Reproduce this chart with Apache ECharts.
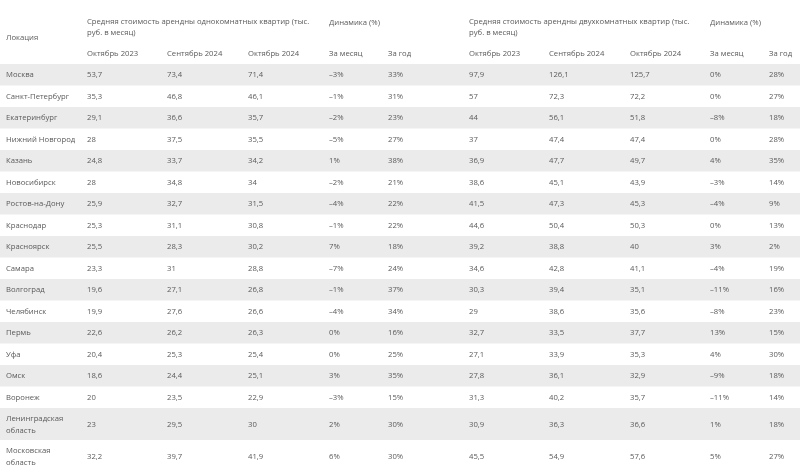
<!DOCTYPE html>
<html>
<head>
<meta charset="utf-8">
<script src="https://cdn.jsdelivr.net/npm/echarts@6/dist/echarts.min.js"></script>
<style>html,body{margin:0;padding:0;background:#fff}#c{width:800px;height:475px}</style>
</head>
<body>
<div id="c"></div>
<script>
// ---- Data ----
const locations = ['Москва','Санкт-Петербург','Екатеринбург','Нижний Новгород','Казань','Новосибирск','Ростов-на-Дону','Краснодар','Красноярск','Самара','Волгоград','Челябинск','Пермь','Уфа','Омск','Воронеж','Ленинградская\nобласть','Московская\nобласть'];
const oneRoomOct2023 = [53.7,35.3,29.1,28,24.8,28,25.9,25.3,25.5,23.3,19.6,19.9,22.6,20.4,18.6,20,23,32.2];
const oneRoomSep2024 = [73.4,46.8,36.6,37.5,33.7,34.8,32.7,31.1,28.3,31,27.1,27.6,26.2,25.3,24.4,23.5,29.5,39.7];
const oneRoomOct2024 = [71.4,46.1,35.7,35.5,34.2,34,31.5,30.8,30.2,28.8,26.8,26.6,26.3,25.4,25.1,22.9,30,41.9];
const oneRoomMonth = [-3,-1,-2,-5,1,-2,-4,-1,7,-7,-1,-4,0,0,3,-3,2,6];
const oneRoomYear = [33,31,23,27,38,21,22,22,18,24,37,34,16,25,35,15,30,30];
const twoRoomOct2023 = [97.9,57,44,37,36.9,38.6,41.5,44.6,39.2,34.6,30.3,29,32.7,27.1,27.8,31.3,30.9,45.5];
const twoRoomSep2024 = [126.1,72.3,56.1,47.4,47.7,45.1,47.3,50.4,38.8,42.8,39.4,38.6,33.5,33.9,36.1,40.2,36.3,54.9];
const twoRoomOct2024 = [125.7,72.2,51.8,47.4,49.7,43.9,45.3,50.3,40,41.1,35.1,35.6,37.7,35.3,32.9,35.7,36.6,57.6];
const twoRoomMonth = [0,0,-8,0,4,-3,-4,0,3,-4,-11,-8,13,4,-9,-11,1,5];
const twoRoomYear = [28,27,18,28,35,14,9,13,2,19,16,23,15,30,18,14,18,27];

const locationHeader = 'Локация';
const groupHeaders = [
  'Средняя стоимость арендны однокомнатных квартир (тыс.\nруб. в месяц)',
  'Динамика (%)',
  'Средняя стоимость арендны двухкомнатных квартир (тыс.\nруб. в месяц)',
  'Динамика (%)'
];
const subHeaders = ['Октябрь 2023','Сентябрь 2024','Октябрь 2024','За месяц','За год','Октябрь 2023','Сентябрь 2024','Октябрь 2024','За месяц','За год'];

// ---- Layout (styles) ----
const W = 800, H = 475;
const colX = [6, 87, 167, 248, 329, 388, 469, 549, 630, 710, 769];
const groupX = [87, 329, 469, 710];
const tableTop = 64;
const singleRowH = 21.5, doubleRowH = 32;
const FONT = "'Open Sans', 'Noto Sans', sans-serif";
const TEXT_COLOR = '#5a5a5a';
const BAND = '#ebebeb';
const FS = 7.7;

const fmtNum = v => String(v).replace('.', ',');
const fmtPct = v => (v < 0 ? '\u2013' + Math.abs(v) : String(v)) + '%';

const valueCols = [
  [oneRoomOct2023, fmtNum],[oneRoomSep2024, fmtNum],[oneRoomOct2024, fmtNum],[oneRoomMonth, fmtPct],[oneRoomYear, fmtPct],
  [twoRoomOct2023, fmtNum],[twoRoomSep2024, fmtNum],[twoRoomOct2024, fmtNum],[twoRoomMonth, fmtPct],[twoRoomYear, fmtPct]
];

// row tops
const rowTop = [], rowH = [];
let acc = tableTop;
locations.forEach(l => {
  const h = l.indexOf('\n') >= 0 ? doubleRowH : singleRowH;
  rowTop.push(acc); rowH.push(h); acc += h;
});

const rows = locations.map((l, i) => [i]);

function txt(p, text, extra) {
  return {
    type: 'text',
    style: Object.assign({
      x: p[0], y: p[1], text: text, fill: TEXT_COLOR,
      font: FS + 'px ' + FONT, align: 'left', verticalAlign: 'middle', lineHeight: 12
    }, extra || {})
  };
}

const chart = echarts.init(document.getElementById('c'), null, {renderer: 'canvas'});
chart.setOption({
  animation: false,
  backgroundColor: '#fff',
  grid: {left: 0, right: 0, top: 0, bottom: 0},
  xAxis: {type: 'value', min: 0, max: W, show: false},
  yAxis: {type: 'value', min: 0, max: H, inverse: true, show: false},
  series: [
    {
      type: 'custom',
      data: [[0]],
      renderItem: function (params, api) {
        const children = [];
        children.push(txt(api.coord([groupX[0], 22.5]), groupHeaders[0], {verticalAlign: 'top', y: api.coord([0, 16.5])[1], lineHeight: 11}));
        children.push(txt(api.coord([groupX[1], 22.5]), groupHeaders[1]));
        children.push(txt(api.coord([groupX[2], 22.5]), groupHeaders[2], {verticalAlign: 'top', y: api.coord([0, 16.5])[1], lineHeight: 11}));
        children.push(txt(api.coord([groupX[3], 22.5]), groupHeaders[3]));
        children.push(txt(api.coord([colX[0], 37.5]), locationHeader));
        subHeaders.forEach((s, j) => children.push(txt(api.coord([colX[j + 1], 53.5]), s)));
        return {type: 'group', children: children};
      }
    },
    {
      type: 'custom',
      data: rows,
      renderItem: function (params, api) {
        const i = api.value(0);
        const top = rowTop[i], h = rowH[i];
        const p0 = api.coord([0, top]);
        const p1 = api.coord([W, top + h]);
        const cy = (p0[1] + p1[1]) / 2 + 0.5;
        const children = [];
        if (i % 2 === 0) {
          children.push({type: 'rect', shape: {x: p0[0], y: p0[1], width: p1[0] - p0[0], height: p1[1] - p0[1]}, style: {fill: BAND}});
        }
        children.push(txt([api.coord([colX[0], 0])[0], cy], locations[i]));
        valueCols.forEach((c, j) => {
          children.push(txt([api.coord([colX[j + 1], 0])[0], cy], c[1](c[0][i])));
        });
        return {type: 'group', children: children};
      }
    }
  ]
});
</script>
</body>
</html>
